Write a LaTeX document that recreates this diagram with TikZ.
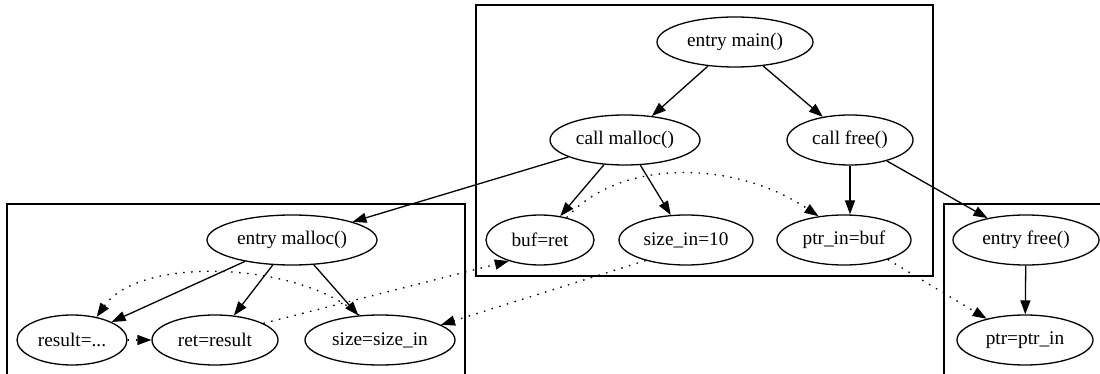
\documentclass[tikz,border=0pt]{standalone}
\usepackage{fontspec}
\setmainfont{Liberation Serif}
\usetikzlibrary{shapes.geometric,arrows.meta}
\begin{document}
\begin{tikzpicture}[x=1pt,y=-1pt,
  gnode/.style={ellipse,draw,line width=1.3pt,inner sep=0pt,minimum height=50pt,font=\fontsize{19.3}{23}\selectfont},
  edge/.style={line width=1.3pt,-{Triangle[length=14pt,width=10pt]}},
  flow/.style={edge,dash pattern=on 1.5pt off 6.5pt},
  cluster/.style={draw,line width=1.3pt}]
\useasboundingbox (0,0) rectangle (1100,374);
\clip (0,0) rectangle (1100,374);
% clusters
\draw[cluster] (7,204) rectangle (465,390);
\draw[cluster] (476,5) rectangle (933,276);
\draw[cluster] (944,204) rectangle (1110,390);
% nodes
\node[gnode,minimum width=156pt] (main) at (735,42) {entry main()};
\node[gnode,minimum width=150pt] (cmalloc) at (625,140) {call malloc()};
\node[gnode,minimum width=126pt] (cfree) at (850,140) {call free()};
\node[gnode,minimum width=108pt] (bufret) at (540,240) {buf=ret};
\node[gnode,minimum width=134pt] (sizein) at (686,240) {size\_in=10};
\node[gnode,minimum width=134pt] (ptrin) at (844,240) {ptr\_in=buf};
\node[gnode,minimum width=170pt] (emalloc) at (292,240) {entry malloc()};
\node[gnode,minimum width=110pt] (result) at (72,340) {result=...};
\node[gnode,minimum width=126pt] (retres) at (215,340) {ret=result};
\node[gnode,minimum width=150pt] (sizesz) at (380,340) {size=size\_in};
\node[gnode,minimum width=146pt] (efree) at (1026,240) {entry free()};
\node[gnode,minimum width=136pt] (ptr) at (1025,340) {ptr=ptr\_in};
% control edges
\draw[edge] (main) -- (cmalloc);
\draw[edge] (main) -- (cfree);
\draw[edge] (cmalloc) -- (bufret);
\draw[edge] (cmalloc) -- (sizein);
\draw[edge] (cfree) -- (cfree |- ptrin.north);
\draw[edge] (cmalloc) -- (emalloc);
\draw[edge] (cfree) -- (efree);
\draw[edge] (emalloc) -- (result);
\draw[edge] (emalloc) -- (retres);
\draw[edge] (emalloc) -- (sizesz);
\draw[edge] (efree) -- (ptr);
% data flow edges
\draw[flow] (bufret.40) .. controls (620,158) and (735,160) .. (ptrin.137);
\draw[flow] (retres.19) -- (bufret.214);
\draw[flow] (sizein.207) -- (sizesz.14);
\draw[flow] (ptrin.336) -- (ptr.151);
\draw[flow] (sizesz.130) .. controls (300,262) and (140,255) .. (result.43);
\draw[flow] (result.east) -- (retres.west);
\end{tikzpicture}
\end{document}
